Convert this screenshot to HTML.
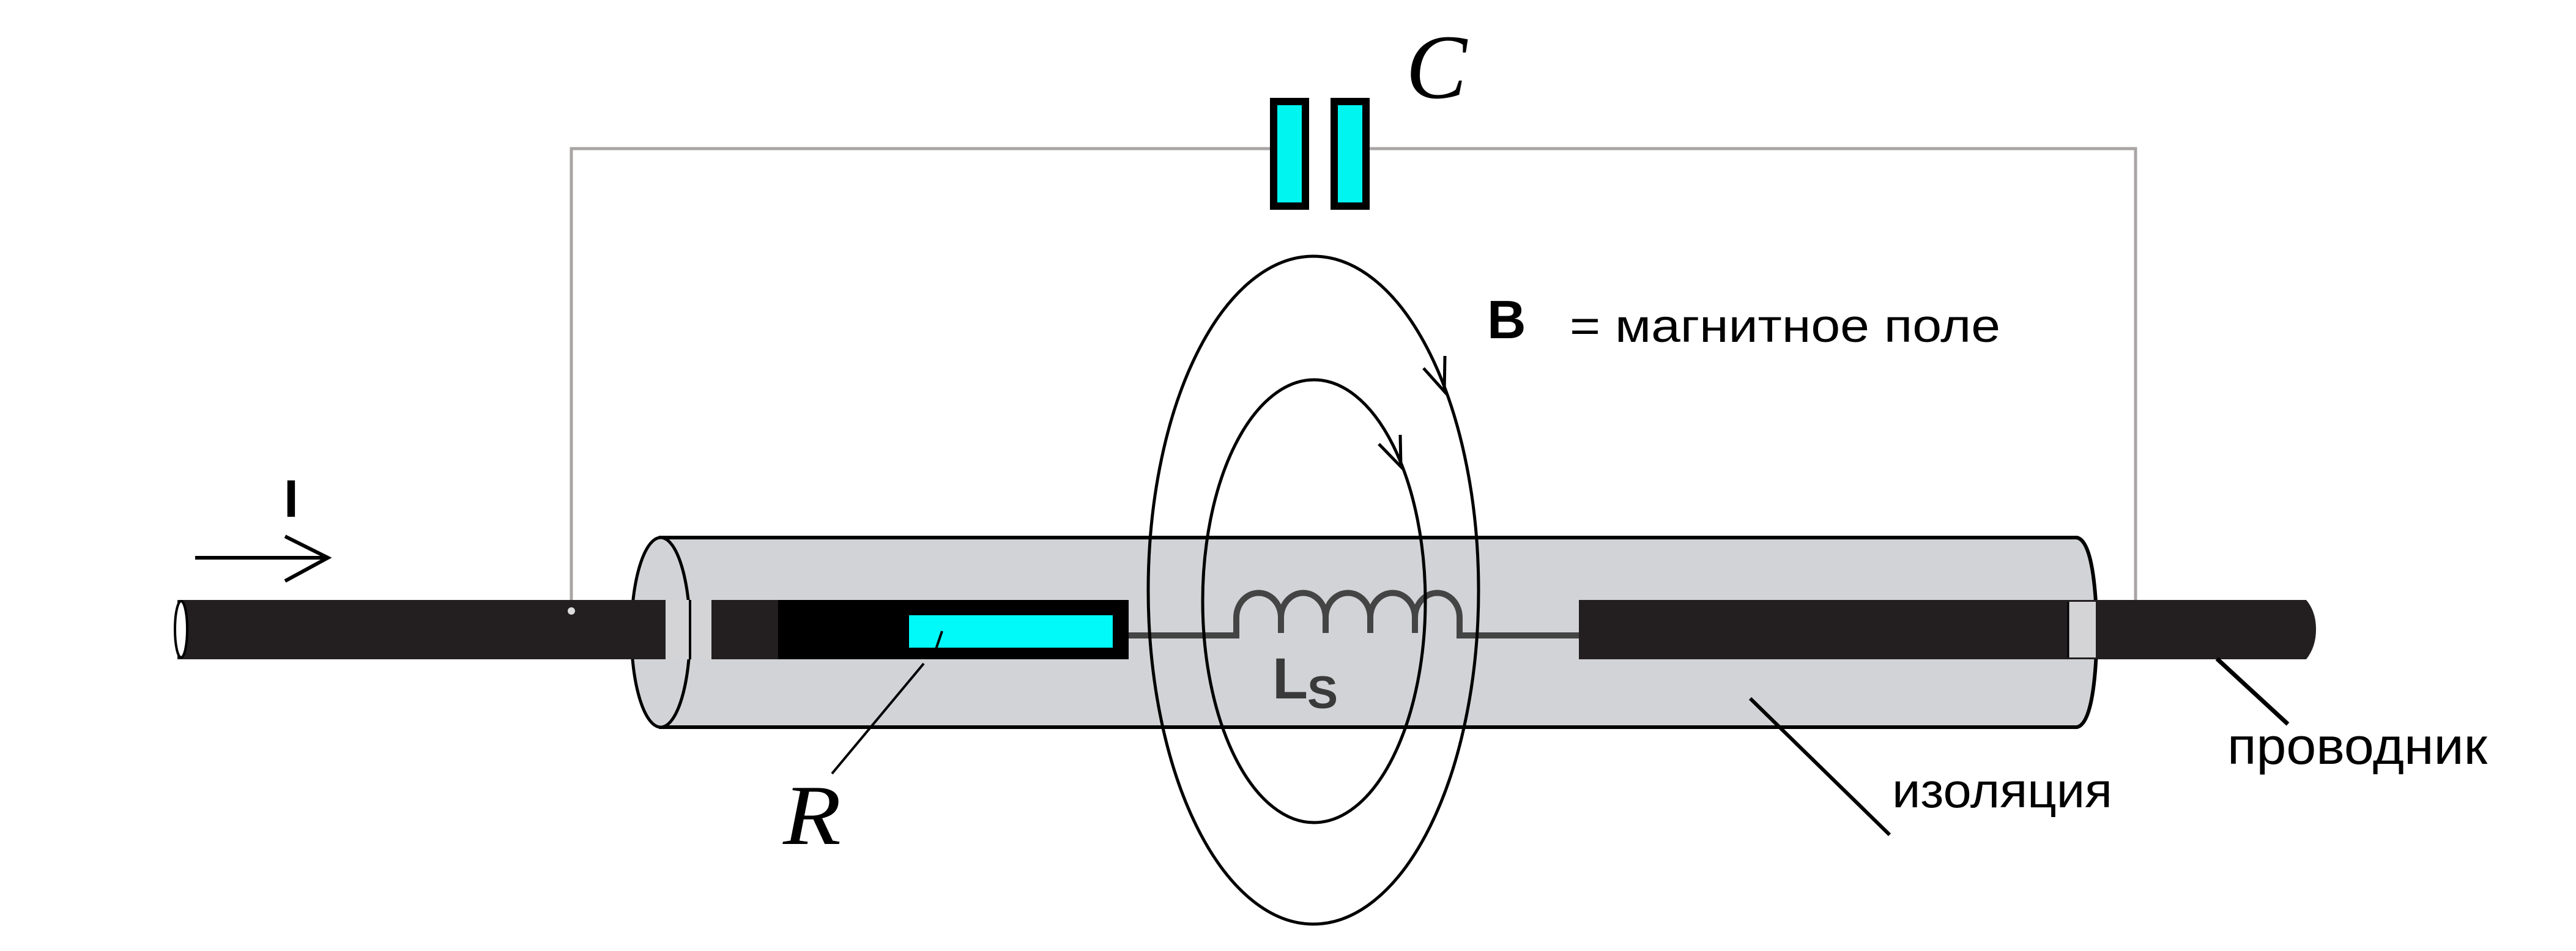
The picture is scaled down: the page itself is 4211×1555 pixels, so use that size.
<!DOCTYPE html>
<html><head><meta charset="utf-8"><style>html,body{margin:0;padding:0;background:#fff}svg{display:block}</style></head>
<body>
<svg width="4211" height="1555" viewBox="0 0 4211 1555" xmlns="http://www.w3.org/2000/svg">
<rect width="4211" height="1555" fill="#fff"/>
<!-- capacitor wires -->
<g stroke="#aaa4a4" stroke-width="5" fill="none">
<polyline points="934,999 934,243 2076,243"/>
<polyline points="2239,243 3491,243 3491,988"/>
</g>
<rect x="2082" y="166" width="52" height="171" fill="#00f5f0" stroke="#000" stroke-width="12"/>
<rect x="2181" y="166" width="52" height="171" fill="#00f5f0" stroke="#000" stroke-width="12"/>
<text x="2298" y="160" font-family="Liberation Serif, serif" font-style="italic" font-size="150">C</text>

<!-- cylinder -->
<path d="M1080,879 L3395,879 Q3425,885 3428,1034 Q3425,1183 3395,1189 L1080,1189 Z" fill="#d1d3d6" stroke="#000" stroke-width="6"/>
<ellipse cx="1080" cy="1034" rx="48" ry="155" fill="#d1d3d6" stroke="#000" stroke-width="5"/>

<!-- left wire -->
<rect x="290" y="981" width="982" height="97" fill="#231f20"/>
<ellipse cx="296" cy="1029" rx="10" ry="46" fill="#fff" stroke="#000" stroke-width="4"/>
<rect x="1088" y="981" width="75" height="97" fill="#d4d4d6"/>
<line x1="1128" y1="981" x2="1128" y2="1078" stroke="#000" stroke-width="4"/>
<rect x="1272" y="981" width="573" height="97" fill="#000"/>
<rect x="1486" y="1006" width="333" height="53" fill="#00fafa"/>
<circle cx="934" cy="999" r="6" fill="#ddd"/>

<!-- coil -->
<path d="M1845,1039 L2021,1039 L2021,1010 A36,40 0 0 1 2094,1010 L2094,1035 L2094,1010 A36,40 0 0 1 2167,1010 L2167,1035 L2167,1010 A36,40 0 0 1 2240,1010 L2240,1035 L2240,1010 A36,40 0 0 1 2313,1010 L2313,1035 L2313,1010 A36,40 0 0 1 2386,1010 L2386,1039 L2581,1039" fill="none" stroke="#444" stroke-width="10"/>
<text x="2080" y="1142" font-family="Liberation Sans, sans-serif" font-weight="bold" font-size="95" fill="#3a3a3a">L</text>
<text x="2137" y="1158" font-family="Liberation Sans, sans-serif" font-weight="bold" font-size="75" fill="#3a3a3a">S</text>

<!-- right conductor -->
<path d="M2581,981 L3770,981 Q3786,1000 3786,1029 Q3786,1058 3770,1078 L2581,1078 Z" fill="#231f20"/>
<rect x="3380" y="984" width="46" height="91" fill="#d4d4d6"/>
<line x1="3381" y1="984" x2="3381" y2="1075" stroke="#000" stroke-width="3"/>

<!-- field loops -->
<ellipse cx="2147" cy="965" rx="270" ry="546" fill="none" stroke="#000" stroke-width="5"/>
<ellipse cx="2148" cy="983" rx="182" ry="362" fill="none" stroke="#000" stroke-width="5"/>
<g stroke="#000" stroke-width="5" fill="none">
<polyline points="2327,602 2361,640 2362,582"/>
<polyline points="2254,726 2290,763 2289,711"/>
</g>

<!-- labels -->
<text x="2431" y="553" font-family="Liberation Sans, sans-serif" font-weight="bold" font-size="88">B</text>
<text x="2566" y="559" font-family="Liberation Sans, sans-serif" font-size="76" textLength="704" lengthAdjust="spacingAndGlyphs">= магнитное поле</text>
<text x="464" y="845" font-family="Liberation Sans, sans-serif" font-weight="bold" font-size="86">I</text>
<g stroke="#000" stroke-width="6" fill="none">
<line x1="319" y1="912" x2="536" y2="912"/>
<polyline points="466,877 536,912 466,950"/>
</g>
<text x="1280" y="1380" font-family="Liberation Serif, serif" font-style="italic" font-size="140" textLength="95" lengthAdjust="spacingAndGlyphs">R</text>
<g stroke="#000" stroke-width="4" fill="none">
<polyline points="1540,1032 1527,1070"/>
<polyline points="1510,1085 1360,1265"/>
<line x1="2861" y1="1142" x2="3089" y2="1365" stroke-width="6"/>
<line x1="3624" y1="1077" x2="3740" y2="1184" stroke-width="7"/>
</g>
<text x="3093" y="1320" font-family="Liberation Sans, sans-serif" font-size="80" textLength="360" lengthAdjust="spacingAndGlyphs">изоляция</text>
<text x="3641" y="1249" font-family="Liberation Sans, sans-serif" font-size="84" textLength="425" lengthAdjust="spacingAndGlyphs">проводник</text>
</svg>
</body></html>
